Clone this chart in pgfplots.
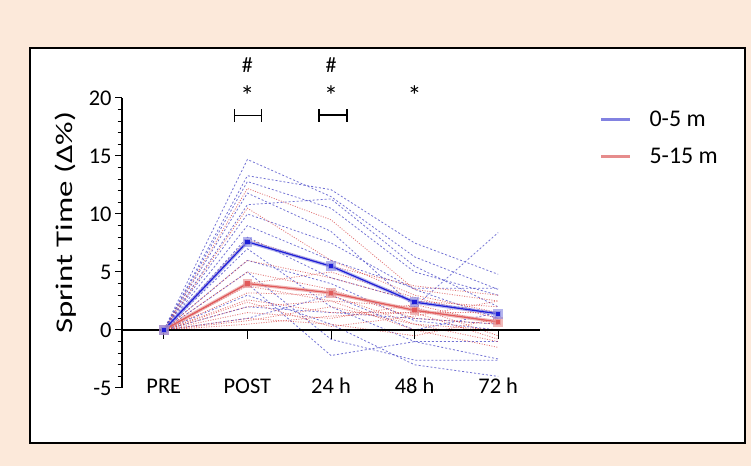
\documentclass[border=0pt]{standalone}
\usepackage{graphicx}
\usepackage{fontspec}
\setmainfont{Carlito}
\usepackage{pgfplots}
\pgfplotsset{compat=1.18}
\usepackage{pgfplotstable}

\definecolor{bg}{RGB}{252,233,218}
\definecolor{indblue}{RGB}{70,70,200}
\definecolor{indred}{RGB}{215,60,60}
\definecolor{meanblue}{RGB}{30,30,215}
\definecolor{haloblue}{RGB}{130,130,225}
\definecolor{meanred}{RGB}{225,90,90}
\definecolor{halored}{RGB}{230,140,140}

% individual responses, one column per subject (b = 0-5 m, r = 5-15 m)
\pgfplotstableread{
x b1 b2 b3 b4 b5 b6 b7 b8 b9 b10 b11 b12 b13 b14 b15 r1 r2 r3 r4 r5 r6 r7 r8 r9 r10 r11 r12 r13 r14 r15
0 0 0 0 0 0 0 0 0 0 0 0 0 0 0 0 0 0 0 0 0 0 0 0 0 0 0 0 0 0 0
1 14.7 13.3 12.8 11.8 10.8 10.0 9.0 8.0 7.0 6.0 5.0 4.0 3.0 2.0 1.0 12.2 10.5 7.8 6.0 5.0 4.0 3.8 3.2 2.6 2.0 1.5 1.0 0.5 0.8 2.4
2 11.5 12.1 10.5 8.5 11.3 7.5 6.0 4.5 2.0 4.0 -0.8 -2.2 0.5 1.5 3.0 9.5 6.0 5.5 4.5 3.5 5.0 2.5 3.0 1.5 2.5 1.0 0.5 1.2 2.0 0.3
3 6.3 7.5 5.0 2.0 5.5 3.5 3.6 2.5 -1.0 0.8 -2.6 -1.0 -3.0 1.0 0.0 3.5 3.0 3.8 2.5 1.0 2.8 2.0 0.5 1.5 0.0 2.2 -0.5 1.5 0.5 1.2
4 3.5 4.8 3.0 8.4 2.0 1.0 3.6 1.5 -2.5 0.0 -2.6 -1.0 -4.0 0.5 1.5 2.5 1.5 3.0 2.0 0.5 1.0 -0.5 -1.0 1.5 -1.5 0.5 1.0 -0.8 0.0 2.5
}\indiv

% group means
\pgfplotstableread{
x near far
0 0 0
1 7.6 4.0
2 5.5 3.2
3 2.4 1.7
4 1.4 0.7
}\means

\begin{document}
\begin{tikzpicture}
\fill[bg] (0,0) rectangle (751bp,466bp);
\draw[fill=white,line width=1.5bp] (30bp,23bp) rectangle (745bp,418bp);
\begin{axis}[at={(122bp,78bp)},anchor=south west,scale only axis,
  width=418bp,height=290bp,xmin=-0.5,xmax=4.5,ymin=-5,ymax=20,clip=false,
  axis x line*=bottom,axis y line*=left,x axis line style={draw=none},
  xtick={0,...,4},xticklabels={PRE,POST,24 h,48 h,72 h},major x tick style={draw=none},
  xticklabel style={anchor=base,yshift=1bp},
  ytick={-5,0,...,20},minor y tick num=4,tick align=outside,
  major tick length=7bp,minor tick length=4.5bp,
  y axis line style={line width=1.2bp},every y tick/.style={black,line width=1bp},
  every tick label/.append style={font=\fontsize{22.5}{24}\selectfont},
  /pgf/number format/assume math mode=true,
  ylabel={\scalebox{1.1}[0.8]{Sprint Time (Δ\%)}},
  ylabel style={font=\fontsize{30}{32}\selectfont,at={(axis description cs:-0.134,0.57)},anchor=center},
  legend style={draw=none,fill=none,at={(axis description cs:1.135,0.97)},anchor=north west,
    font=\fontsize{24}{26}\selectfont,row sep=16bp,column sep=16bp},
  legend cell align=left,
  legend image code/.code={\draw[#1] (0bp,0bp) -- (29bp,0bp);}]

\addlegendimage{haloblue,line width=3bp}
\addlegendentry{0-5 m}
\addlegendimage{halored,line width=3bp}
\addlegendentry{5-15 m}

\pgfplotsinvokeforeach{1,...,15}{
  \addplot[indblue,opacity=0.75,line width=0.8bp,dash pattern=on 2bp off 2bp,forget plot] table[x=x,y=b#1]{\indiv};
}
\pgfplotsinvokeforeach{1,...,15}{
  \addplot[indred,opacity=0.7,line width=0.8bp,dash pattern=on 1bp off 1.5bp,forget plot] table[x=x,y=r#1]{\indiv};
}

% x axis at zero with category ticks
\addplot[black,line width=1.8bp,forget plot] coordinates {(-0.5,0) (4.5,0)};
\pgfplotsinvokeforeach{0,...,4}{\draw[black,line width=0.8bp] (axis cs:#1,0) -- (axis cs:#1,-0.75);}

\addplot[halored,opacity=0.6,line width=3.5bp,mark=square*,mark size=3bp,forget plot] table[x=x,y=far]{\means};
\addplot[meanred,line width=1.2bp,mark=square*,mark size=1.6bp,forget plot] table[x=x,y=far]{\means};
\addplot[haloblue,opacity=0.6,line width=3.5bp,mark=square*,mark size=3bp,forget plot] table[x=x,y=near]{\means};
\addplot[meanblue,line width=1.2bp,mark=square*,mark size=1.6bp,forget plot] table[x=x,y=near]{\means};

% significance annotations
\draw[black,line width=1bp] (axis cs:0.84,18.5) -- (axis cs:1.17,18.5)
  (axis cs:0.84,17.95) -- (axis cs:0.84,19.05) (axis cs:1.17,17.95) -- (axis cs:1.17,19.05);
\draw[black,line width=2bp] (axis cs:1.86,18.5) -- (axis cs:2.19,18.5)
  (axis cs:1.86,17.95) -- (axis cs:1.86,19.05) (axis cs:2.19,17.95) -- (axis cs:2.19,19.05);
\pgfplotsinvokeforeach{1,2,3}{\node[font=\fontsize{28}{28}\selectfont] at (axis cs:#1,20.2) {*};}
\pgfplotsinvokeforeach{1,2}{\node[font=\fontsize{22}{22}\selectfont] at (axis cs:#1,22.8) {\#};}
\end{axis}
\end{tikzpicture}
\end{document}
